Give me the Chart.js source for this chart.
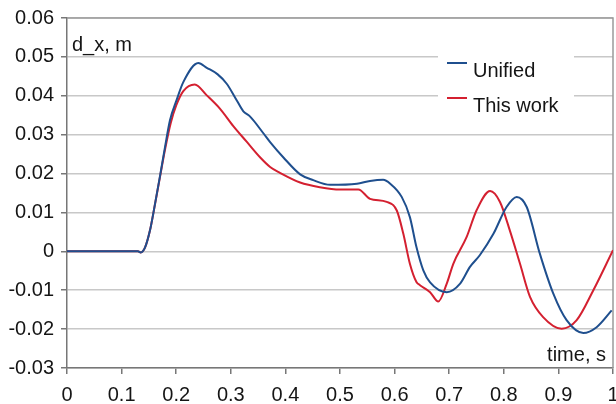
<!DOCTYPE html>
<html>
<head>
<meta charset="utf-8">
<script src="https://cdn.jsdelivr.net/npm/chart.js@4.4.1/dist/chart.umd.min.js"></script>
<style>
  html, body { margin: 0; padding: 0; background: #fff; }
  #wrap { width: 616px; height: 404px; }
</style>
</head>
<body>
<div id="wrap"><canvas id="grafico" width="616" height="404"></canvas></div>
<script>
// tick values and labels
const xTicks = [0, 0.1, 0.2, 0.3, 0.4, 0.5, 0.6, 0.7, 0.8, 0.9, 1];
const xTickLabels = ["0", "0.1", "0.2", "0.3", "0.4", "0.5", "0.6", "0.7", "0.8", "0.9", "1"];
const yTicks = [-0.03, -0.02, -0.01, 0, 0.01, 0.02, 0.03, 0.04, 0.05, 0.06];
const yTickLabels = ["-0.03", "-0.02", "-0.01", "0", "0.01", "0.02", "0.03", "0.04", "0.05", "0.06"];

// Unified (blue)
const tUnified = [0, 0.13, 0.135, 0.143, 0.152, 0.158, 0.17, 0.1795, 0.1886, 0.201, 0.213, 0.2405, 0.256, 0.276, 0.2925,
  0.311, 0.323, 0.335, 0.36, 0.372, 0.396, 0.427, 0.451, 0.482, 0.531, 0.555, 0.579, 0.592, 0.613, 0.628, 0.64, 0.6526,
  0.665, 0.6955, 0.72, 0.738, 0.756, 0.781, 0.805, 0.8236, 0.842, 0.866, 0.8907, 0.915, 0.9456, 0.97, 0.9976];
const dUnified = [0, 0, -0.0003, 0.001, 0.0054, 0.0097, 0.0191, 0.0268, 0.0337, 0.039, 0.0435, 0.0484, 0.0472, 0.0455, 0.0431,
  0.0388, 0.036, 0.0347, 0.0303, 0.0281, 0.0242, 0.0198, 0.0183, 0.0171, 0.0174, 0.0181, 0.0184, 0.0174, 0.014, 0.0088, 0.0011, -0.0049,
  -0.008, -0.0105, -0.0083, -0.004, -0.001, 0.0045, 0.0114, 0.014, 0.0114, -0.0006, -0.0109, -0.0177, -0.021, -0.0195, -0.0152];

// This work (red)
const tThisWork = [0, 0.13, 0.135, 0.143, 0.152, 0.158, 0.17, 0.18, 0.19, 0.2, 0.213, 0.234, 0.256, 0.28, 0.3046,
  0.329, 0.3535, 0.372, 0.39, 0.427, 0.463, 0.5, 0.5336, 0.555, 0.5855, 0.604, 0.616, 0.628, 0.64, 0.6465, 0.665, 0.68,
  0.6955, 0.7075, 0.732, 0.75, 0.775, 0.793, 0.811, 0.8297, 0.848, 0.872, 0.906, 0.9335, 0.964, 1.0];
const dThisWork = [0, 0, -0.0003, 0.001, 0.0054, 0.0097, 0.0189, 0.0265, 0.033, 0.0375, 0.0412, 0.0429, 0.0401, 0.0367, 0.0322,
  0.0282, 0.0242, 0.0217, 0.0202, 0.0177, 0.0165, 0.0159, 0.0159, 0.0135, 0.0127, 0.0105, 0.0045, -0.0032, -0.0079, -0.0087, -0.0105, -0.0129,
  -0.0083, -0.0032, 0.0037, 0.0105, 0.0155, 0.0127, 0.0054, -0.0032, -0.0117, -0.0169, -0.0199, -0.0177, -0.01, 0.0003];

const FONT = "'Liberation Sans', Arial, sans-serif";

// marco, leyenda y rotulos de ejes
const extras = {
  id: "extras",
  beforeDatasetsDraw(chart) {
    const { ctx, chartArea: a } = chart;
    ctx.save();
    // borde superior y derecho
    ctx.strokeStyle = "#9a9a9a";
    ctx.lineWidth = 1.5;
    ctx.beginPath();
    ctx.moveTo(a.left, a.top);
    ctx.lineTo(a.right, a.top);
    ctx.lineTo(a.right, a.bottom);
    ctx.stroke();
    // leyenda con fondo blanco
    ctx.fillStyle = "#fff";
    ctx.fillRect(438, 48, 136, 70);
    ctx.font = "20px " + FONT;
    ctx.textBaseline = "middle";
    chart.data.datasets.forEach((ds, i) => {
      const y = 63 + i * 35;
      ctx.strokeStyle = ds.borderColor;
      ctx.lineWidth = 2;
      ctx.beginPath();
      ctx.moveTo(447, y);
      ctx.lineTo(467, y);
      ctx.stroke();
      ctx.fillStyle = "#151515";
      ctx.fillText(ds.label, 473, y + 8);
    });
    ctx.restore();
  },
  afterDraw(chart) {
    const { ctx, chartArea: a } = chart;
    ctx.save();
    ctx.font = "20px " + FONT;
    ctx.fillStyle = "#151515";
    ctx.textBaseline = "middle";
    ctx.textAlign = "left";
    ctx.fillText("d_x, m", a.left + 5, 45);
    ctx.textAlign = "right";
    ctx.fillText("time, s", a.right - 7, 355);
    ctx.restore();
  }
};

const ctx = document.getElementById("grafico").getContext("2d");
const grafico = new Chart(ctx, {
  type: "line",
  data: {
    datasets: [
      {
        label: "Unified",
        data: tUnified.map((t, i) => ({ x: t, y: dUnified[i] })),
        borderColor: "#1f4f8e",
        borderWidth: 2,
        pointRadius: 0,
        cubicInterpolationMode: "monotone",
        fill: false
      },
      {
        label: "This work",
        data: tThisWork.map((t, i) => ({ x: t, y: dThisWork[i] })),
        borderColor: "#d42030",
        borderWidth: 2,
        pointRadius: 0,
        cubicInterpolationMode: "monotone",
        fill: false
      }
    ]
  },
  options: {
    responsive: false,
    animation: false,
    layout: { padding: { top: 18, right: 3, left: 0, bottom: 0 } },
    plugins: { legend: { display: false }, tooltip: { enabled: false } },
    scales: {
      x: {
        type: "linear",
        min: 0,
        max: 1,
        afterBuildTicks: (axis) => { axis.ticks = xTicks.map((v) => ({ value: v })); },
        afterFit: (axis) => {
          axis.height = 36;
          axis.paddingLeft = 0;
          axis.paddingRight = 0;
        },
        grid: { drawOnChartArea: false, drawTicks: true, tickLength: 6, color: "#777", lineWidth: 1.5 },
        border: { color: "#777", width: 1.5 },
        ticks: {
          autoSkip: false,
          maxRotation: 0,
          padding: 9,
          color: "#151515",
          font: { family: FONT, size: 20 },
          callback: (v, i) => xTickLabels[i]
        }
      },
      y: {
        min: -0.03,
        max: 0.06,
        afterBuildTicks: (axis) => { axis.ticks = yTicks.map((v) => ({ value: v })); },
        afterFit: (axis) => {
          axis.width = 67;
          axis.paddingTop = 0;
          axis.paddingBottom = 0;
        },
        grid: { color: "#c8c8c8", lineWidth: 1.5, tickLength: 6, tickColor: "#777" },
        border: { color: "#777", width: 1.5 },
        ticks: {
          autoSkip: false,
          padding: 7,
          color: "#151515",
          font: { family: FONT, size: 20 },
          callback: (v, i) => yTickLabels[i]
        }
      }
    }
  },
  plugins: [extras]
});
</script>
</body>
</html>
